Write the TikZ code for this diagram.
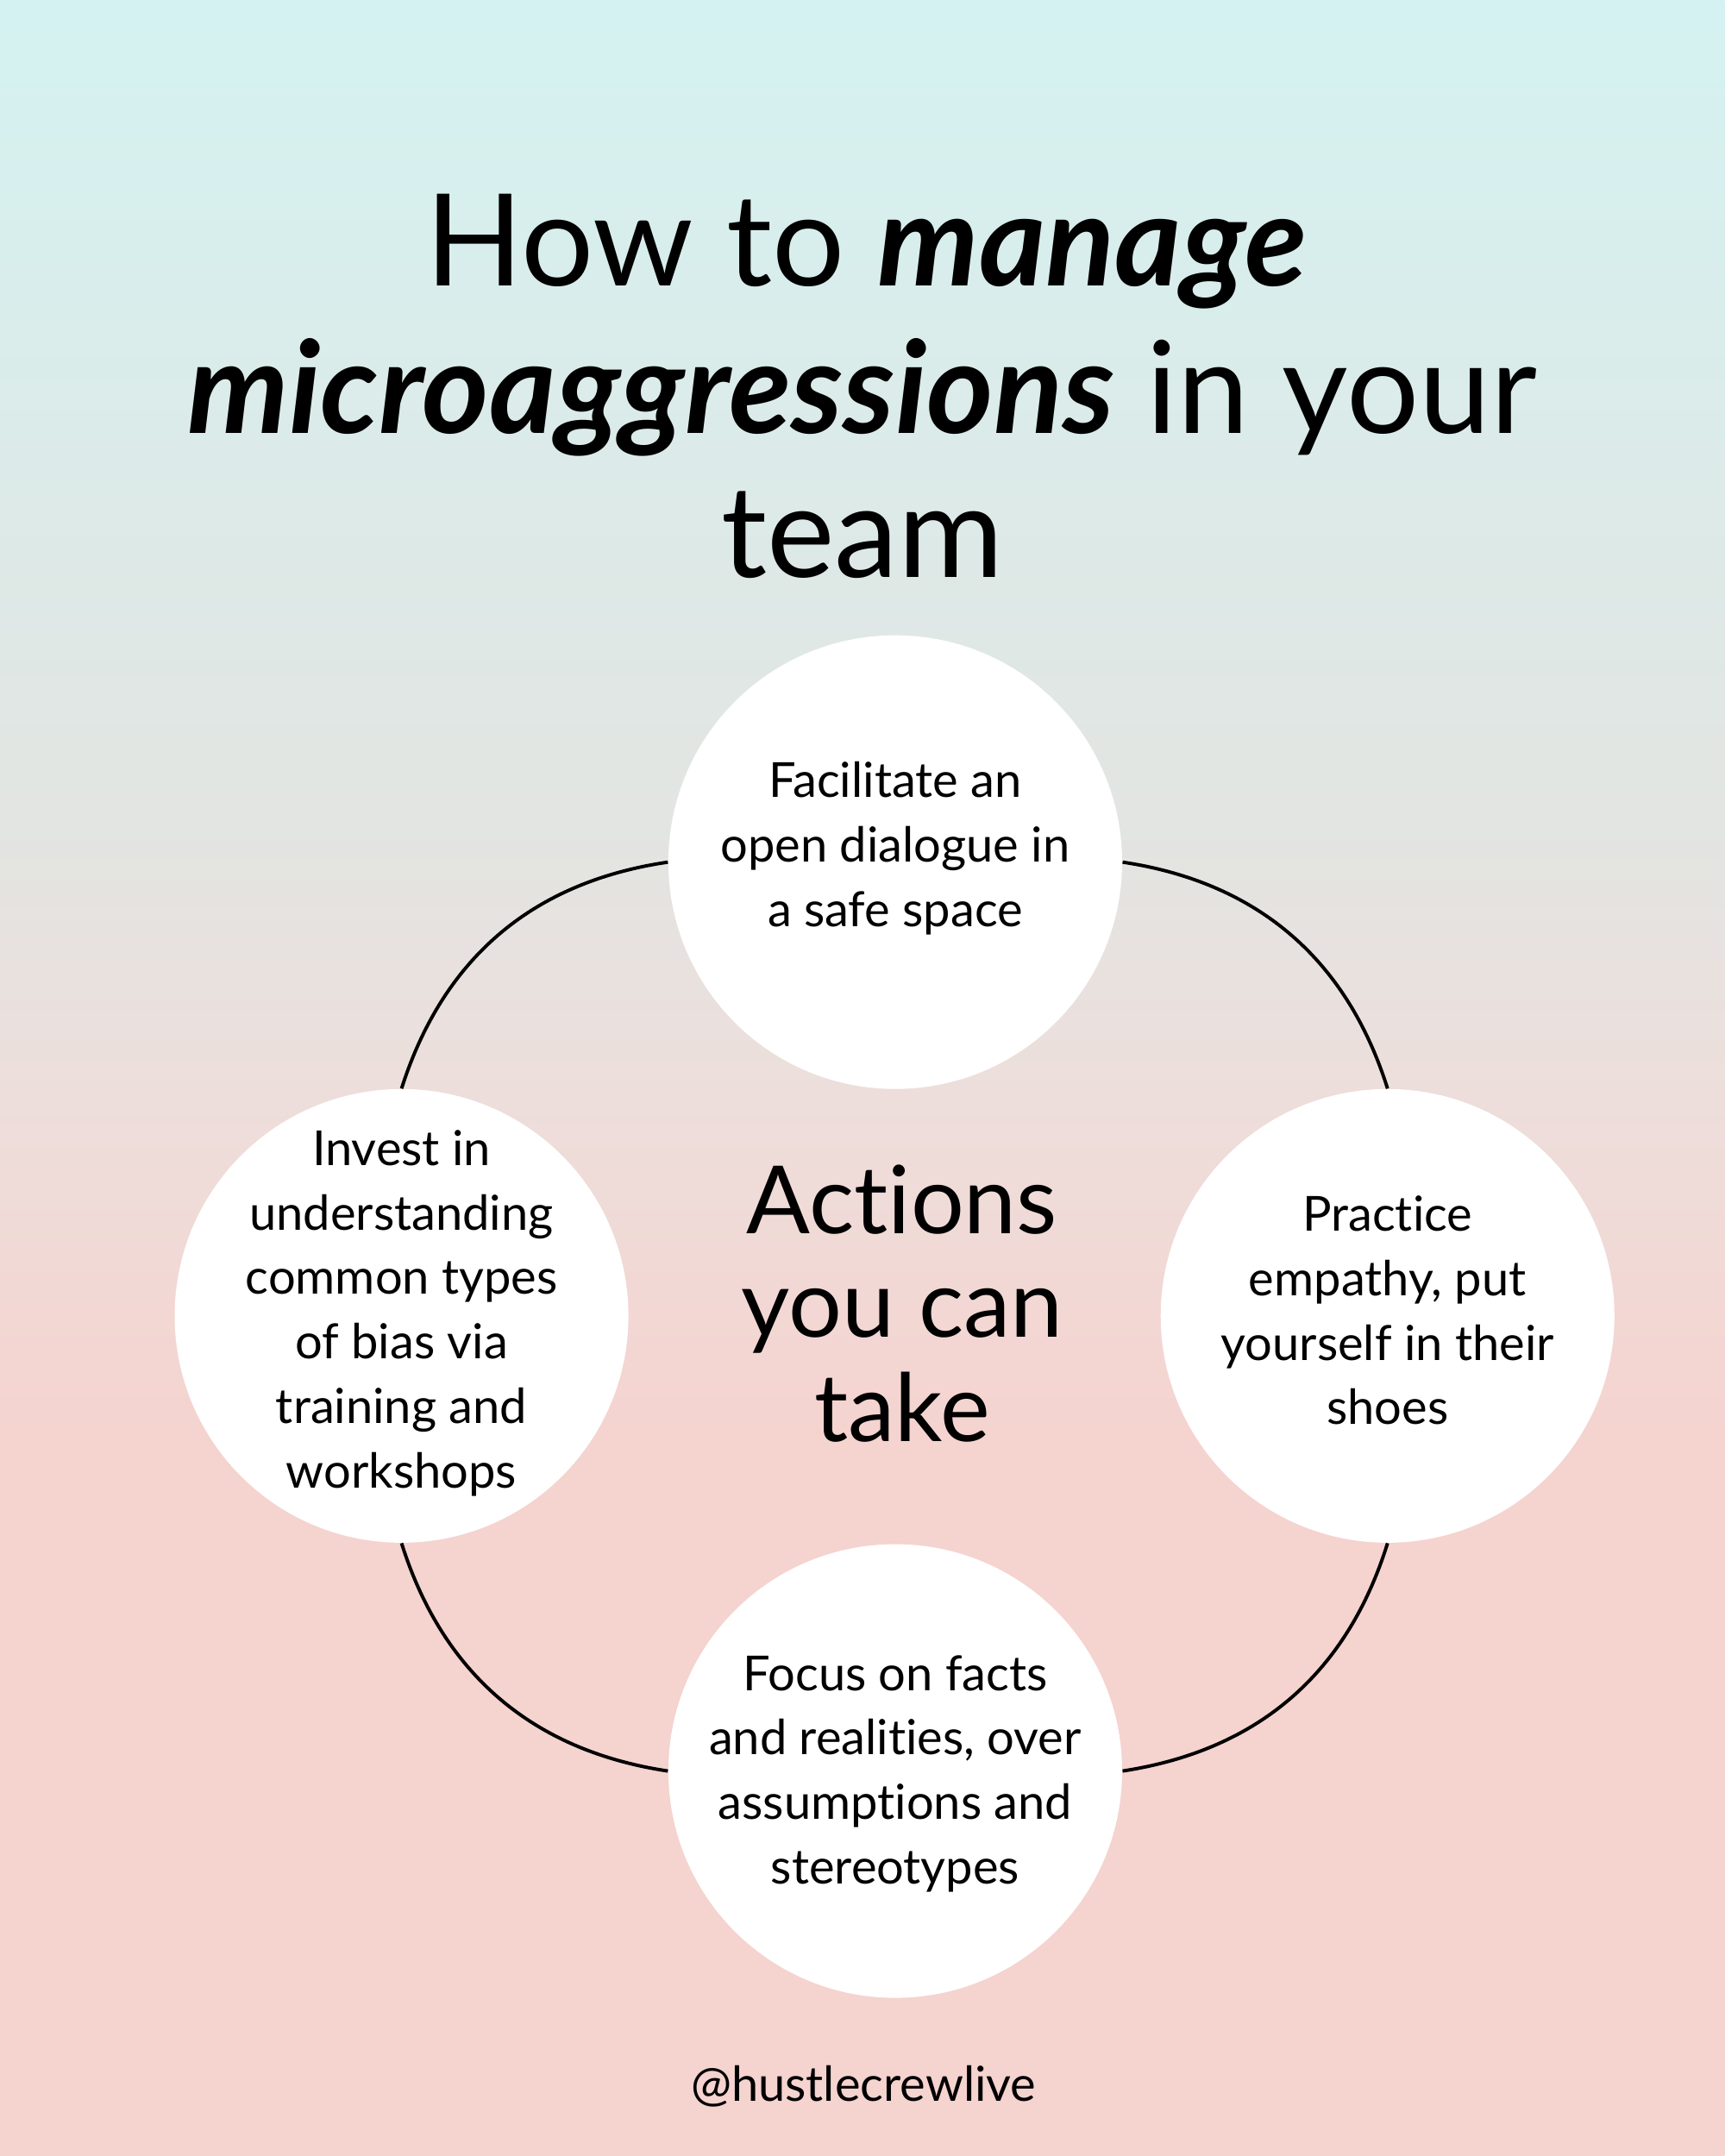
\documentclass[tikz,border=0pt]{standalone}
\usepackage{fontspec}
\setmainfont{Lato}[Ligatures={NoCommon}]
\usepackage{tikz}
\usetikzlibrary{positioning}

\definecolor{bgcyan}{RGB}{212,242,241}
\definecolor{bggrey}{RGB}{226,229,226}
\definecolor{bgrose}{RGB}{237,222,219}
\definecolor{bgpink}{RGB}{245,211,207}
\pgfdeclareverticalshading{bgshade}{100bp}{color(0bp)=(bgpink); color(41.5bp)=(bgpink); color(49.5bp)=(bgrose); color(56bp)=(bggrey); color(75bp)=(bgcyan); color(100bp)=(bgcyan)}

\begin{document}
\begin{tikzpicture}[x=0.02cm,y=-0.02cm,
  headline/.style={anchor=base,inner sep=0pt,font=\fontsize{53}{60}\selectfont},
  bubble/.style={circle,fill=white,minimum size=6.6cm,inner sep=0pt},
  bubbletext/.style={align=center,inner sep=0pt,font=\fontsize{20}{26.7}\selectfont},
  ring/.style={line width=1.4pt,draw=black}]
\useasboundingbox (0,0) rectangle (1254,1568);
\shade[shading=bgshade] (0,0) rectangle (1254,1568);

% title
\node[headline] (title1) at (630,208) {How to \textbf{\textit{manage}}};
\node[headline] (title2) at (627,315) {\textbf{\textit{microaggressions}} in your};
\node[headline] (title3) at (627,420) {team};

% the four actions
\node[bubble] (facil) at (651,627) {};
\node[bubble] (invest) at (292,957) {};
\node[bubble] (pract) at (1009,957) {};
\node[bubble] (focus) at (651,1288) {};

\path[ring] (facil.west) edge[bend right=32] (invest.north);
\path[ring] (invest.south) edge[bend right=32] (focus.west);
\path[ring] (focus.east) edge[bend right=32] (pract.south);
\path[ring] (pract.north) edge[bend right=32] (facil.east);

\node[bubbletext] (facil text) at (651,617) {Facilitate an\\open dialogue in\\a safe space};
\node[bubbletext] (invest text) at (292,955) {Invest in\\understanding\\common types\\of bias via\\training and\\workshops};
\node[bubbletext] (pract text) at (1009,953) {Practice\\empathy, put\\yourself in their\\shoes};
\node[bubbletext] (focus text) at (651,1290) {Focus on facts\\and realities, over\\assumptions and\\stereotypes};

\node[align=center,font=\fontsize{39}{43}\selectfont] (actions) at (656,948) {Actions\\you can\\take};

\node[font=\fontsize{20}{24}\selectfont] (handle) at (628,1517) {@hustlecrewlive};
\end{tikzpicture}
\end{document}
